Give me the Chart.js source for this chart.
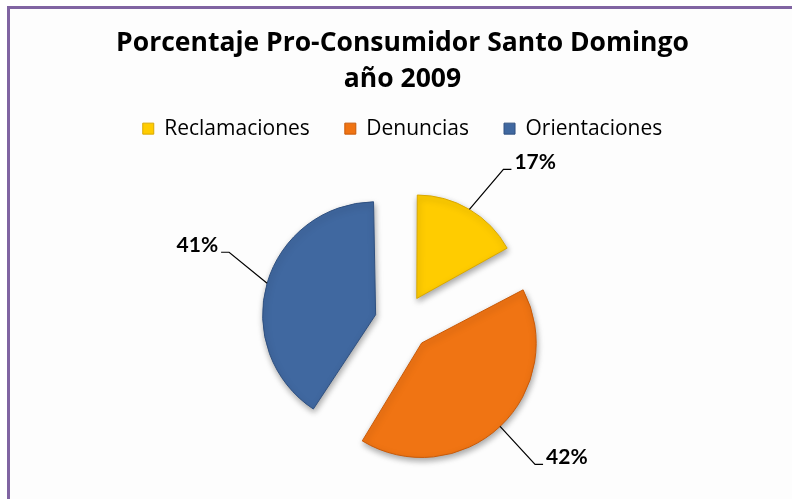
<!DOCTYPE html>
<html>
<head>
<meta charset="utf-8">
<script src="https://cdn.jsdelivr.net/npm/chart.js@4.4.1/dist/chart.umd.min.js"></script>
<style>
  html, body { margin: 0; padding: 0; background: #fff; }
  #wrap { position: relative; width: 792px; height: 499px; overflow: hidden; }
  #frame {
    position: absolute; left: 7px; top: 6px; width: 782px; height: 510px;
    border-left: 3px solid #8064A2; border-top: 3px solid #8064A2; border-right: 2px solid #8064A2;
    background: #FDFDFD;
  }
  canvas { position: absolute; left: 0; top: 0; }
</style>
</head>
<body>
<div id="wrap">
  <div id="frame"></div>
  <canvas id="myChart" width="792" height="499"></canvas>
</div>
<script>
const categories = ['Reclamaciones', 'Denuncias', 'Orientaciones'];
const percentages = [17, 42, 41];
const sliceColors = ['#FFCC00', '#F07413', '#4068A0'];
const sliceBorders = ['#D9A800', '#C95A08', '#2F5080'];

// leader line elbow offsets for each label (x, y from the slice edge)
const elbows = [[34, -40], [35, 38], [-38, -31]];

const pieLabels = {
    id: 'pieLabels',
    beforeDatasetsDraw(chart) {
        const ctx = chart.ctx;
        ctx.save();
        ctx.shadowColor = 'rgba(0,0,0,0.35)';
        ctx.shadowBlur = 6;
        ctx.shadowOffsetX = 1;
        ctx.shadowOffsetY = 3;
    },
    afterDatasetsDraw(chart) {
        const ctx = chart.ctx;
        ctx.restore();
        const meta = chart.getDatasetMeta(0);
        ctx.save();
        ctx.strokeStyle = '#000';
        ctx.lineWidth = 1.2;
        ctx.fillStyle = '#000';
        ctx.font = 'bold 21px Lato';
        ctx.textBaseline = 'middle';
        meta.data.forEach((arc, i) => {
            const p = arc.getProps(['x', 'y', 'startAngle', 'endAngle', 'outerRadius', 'circumference']);
            const off = (arc.options.offset || 0) / 4;
            const mid = (p.startAngle + p.endAngle) / 2;
            const fix = 1 - Math.sin(Math.min(Math.PI, p.circumference));
            const r = p.outerRadius + off * fix;
            const cx = p.x + Math.cos(mid) * off;
            const cy = p.y + Math.sin(mid) * off;
            const sx = cx + Math.cos(mid) * r;
            const sy = cy + Math.sin(mid) * r;
            const ex = sx + elbows[i][0];
            const ey = sy + elbows[i][1];
            const dir = elbows[i][0] >= 0 ? 1 : -1;
            const tx = ex + dir * 8;
            ctx.beginPath();
            ctx.moveTo(sx, sy);
            ctx.lineTo(ex, ey);
            ctx.lineTo(tx, ey);
            ctx.stroke();
            ctx.textAlign = dir > 0 ? 'left' : 'right';
            ctx.fillText(percentages[i] + '%', tx + dir * 3, ey - 7);
        });
        ctx.restore();
    }
};

const data = {
    labels: categories,
    datasets: [{
        data: percentages,
        backgroundColor: sliceColors,
        borderColor: sliceBorders,
        borderWidth: 1,
        offset: 112
    }]
};

const config = {
    type: 'pie',
    data: data,
    options: {
        responsive: false,
        animation: false,
        radius: 100,
        layout: { padding: { left: 13, right: 0, top: 0, bottom: 3 } },
        plugins: {
            title: {
                display: true,
                text: ['Porcentaje Pro-Consumidor Santo Domingo', 'año 2009'],
                color: '#000',
                font: { family: 'Open Sans', size: 26.5, weight: 'bold', lineHeight: 1.38 },
                padding: { top: 25, bottom: -15 }
            },
            legend: {
                display: true,
                position: 'top',
                labels: {
                    color: '#000',
                    font: { family: 'Open Sans', size: 21 },
                    boxWidth: 11,
                    boxHeight: 11,
                    padding: 35
                }
            },
            tooltip: { enabled: false }
        }
    },
    plugins: [pieLabels]
};

const myChart = new Chart(document.getElementById('myChart'), config);
</script>
</body>
</html>
